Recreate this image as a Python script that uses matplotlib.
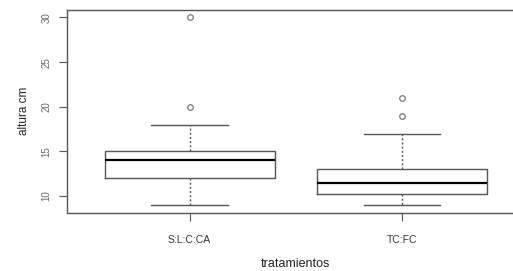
import matplotlib
matplotlib.use("Agg")
import matplotlib.pyplot as plt

# box summary
groups = ["S:L:C:CA", "TC:FC"]
lower_whisker = [9, 9]
q1 = [12, 10.2]
median = [14, 11.5]
q3 = [15, 13.0]
upper_whisker = [18, 17]
outliers = [[20, 30], [19, 21]]
yticks = [10, 15, 20, 25, 30]

plt.rcParams['font.family'] = ['Liberation Sans', 'DejaVu Sans']

stats = []
for i in range(len(groups)):
    stats.append(dict(label=groups[i], whislo=lower_whisker[i], q1=q1[i], med=median[i],
                      q3=q3[i], whishi=upper_whisker[i], fliers=outliers[i]))

fig = plt.figure(figsize=(5.13, 2.71), dpi=100)
ax = fig.add_axes([66.5/513, 1-212.5/271, (525-66.5)/513, 202.5/271])

line = '#555555'
ax.bxp(stats, positions=[1, 2], widths=0.8, showfliers=True,
       boxprops=dict(color=line, linewidth=1.0),
       medianprops=dict(color='black', linewidth=1.6),
       whiskerprops=dict(color=line, linewidth=1.0, linestyle=(0, (1.5, 1.5))),
       capprops=dict(color=line, linewidth=1.0),
       capwidths=0.36,
       flierprops=dict(marker='o', markersize=4, markerfacecolor='none',
                       markeredgecolor='#777777', markeredgewidth=0.9))

ax.set_xlim(0.42, 2.58)
ax.set_ylim(8.16, 30.84)
ax.set_yticks(yticks)
ax.set_yticklabels([str(v) for v in yticks], rotation=90, va='center')
ax.set_xticks([1, 2])
ax.set_xticklabels(groups)
for s in ax.spines.values():
    s.set_color(line)
    s.set_linewidth(1.0)
ax.tick_params(axis='y', colors=line, labelcolor='#666666', labelsize=7, length=6, pad=5)
ax.tick_params(axis='x', colors=line, labelcolor='#333333', labelsize=7.5, length=6, pad=10)

ax.set_ylabel('altura cm', fontsize=8.5, color='#222222', labelpad=8)
ax.set_xlabel('tratamientos', fontsize=9, color='#222222')
ax.xaxis.set_label_coords((295-66.5)/458.5, -(258-212.5)/202.5)

fig.savefig('out.png', dpi=100)
